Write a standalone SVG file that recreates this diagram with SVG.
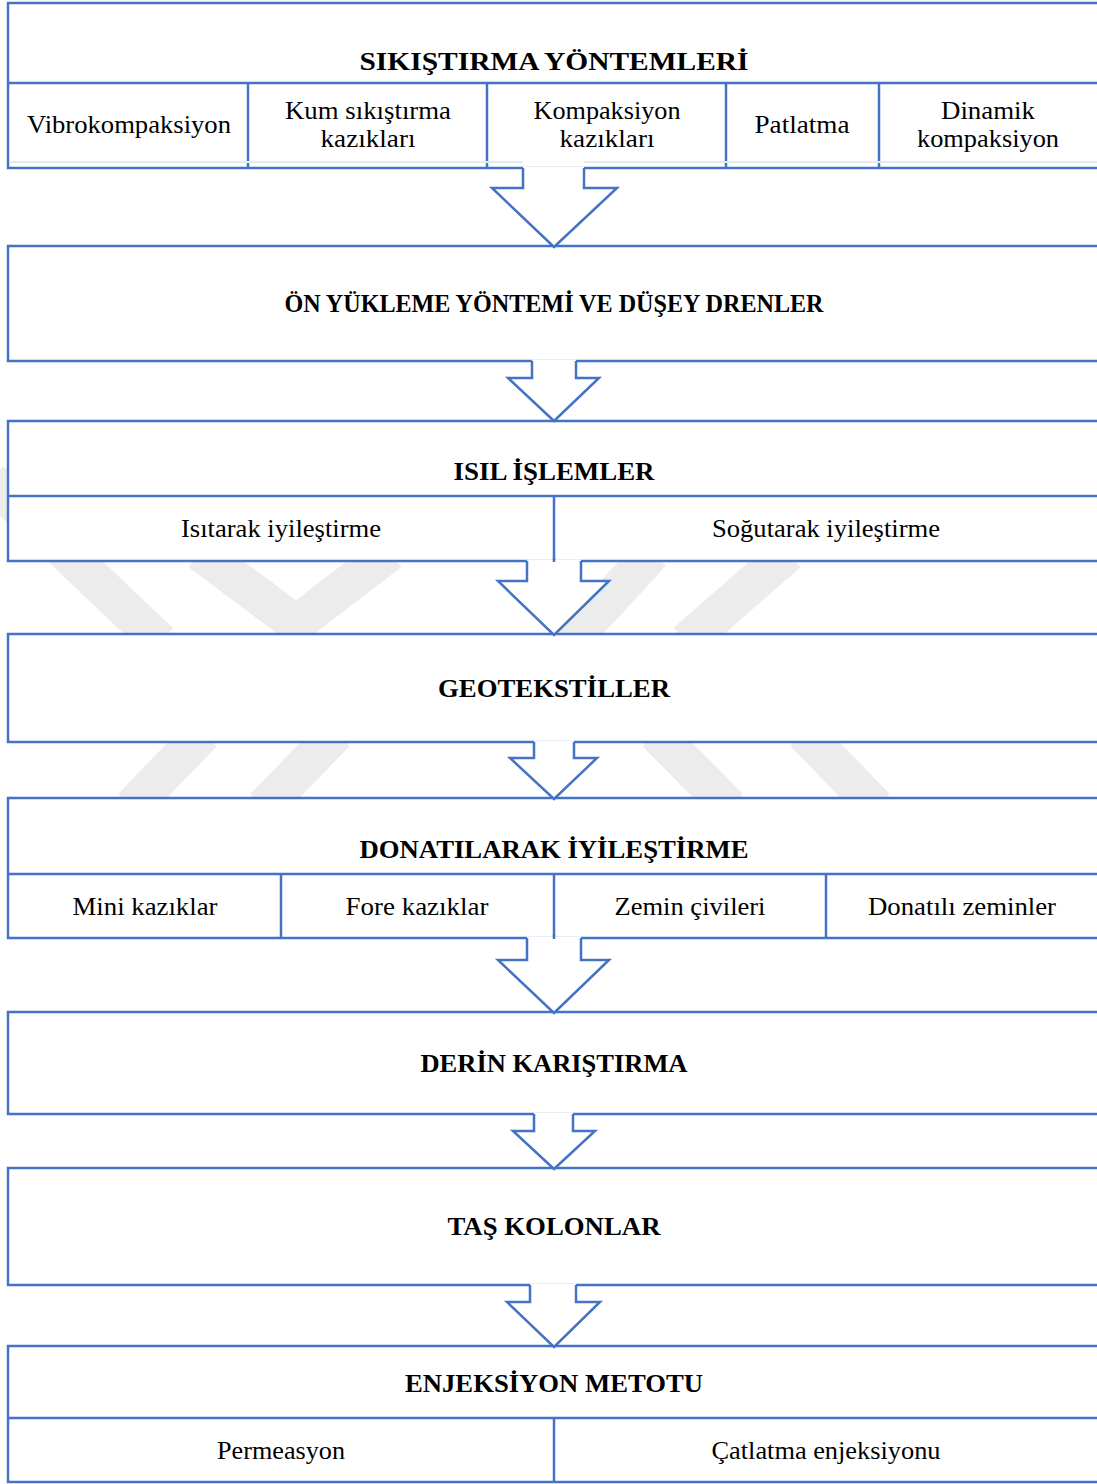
<svg xmlns="http://www.w3.org/2000/svg" width="1097" height="1484" viewBox="0 0 1097 1484">
<style>
  .box { fill: #ffffff; stroke: #4472C4; stroke-width: 2.5; }
  .ln { stroke: #4472C4; stroke-width: 2.5; fill: none; }
  .faint { stroke: #e4e9f2; stroke-width: 2; fill: none; }
  .wm { stroke: #ececec; stroke-width: 38; fill: none; stroke-linecap: butt; }
  .af { fill: #ffffff; stroke: none; }
  .as { fill: none; stroke: #4472C4; stroke-width: 2.5; stroke-linejoin: miter; }
  .t { font-family: "Liberation Serif", "Times New Roman", serif; font-weight: bold; font-size: 26px; fill: #000; text-anchor: middle; }
  .s { font-family: "Liberation Serif", "Times New Roman", serif; font-size: 26px; fill: #000; text-anchor: middle; }
</style>

<g id="watermark">
  <line class="wm" x1="-10" y1="480" x2="160" y2="642"/>
  <polyline class="wm" points="200,552 296,624 390,552" stroke-linejoin="miter"/>
  <line class="wm" x1="652" y1="553" x2="570" y2="642"/>
  <line class="wm" x1="788" y1="553" x2="686" y2="642"/>
  <line class="wm" x1="203" y1="733" x2="132" y2="807"/>
  <line class="wm" x1="336" y1="733" x2="264" y2="807"/>
  <line class="wm" x1="656" y1="733" x2="729" y2="807"/>
  <line class="wm" x1="804" y1="733" x2="876" y2="807"/>
</g>

<g id="node-sikistirma">
  <rect class="box" x="8" y="3" width="1100" height="165"/>
  <line class="ln" x1="8" y1="83" x2="1100" y2="83"/>
  <line class="ln" x1="248" y1="83" x2="248" y2="168"/>
  <line class="ln" x1="487" y1="83" x2="487" y2="168"/>
  <line class="ln" x1="726" y1="83" x2="726" y2="168"/>
  <line class="ln" x1="879" y1="83" x2="879" y2="168"/>
  <line class="faint" x1="10" y1="162" x2="523" y2="162"/>
  <line class="faint" x1="584" y1="162" x2="1097" y2="162"/>
  <text class="t" x="554" y="70" font-size="28" textLength="389" lengthAdjust="spacingAndGlyphs">SIKIŞTIRMA YÖNTEMLERİ</text>
  <text class="s" x="129" y="133" textLength="204" lengthAdjust="spacingAndGlyphs">Vibrokompaksiyon</text>
  <text class="s" x="368" y="119" textLength="166" lengthAdjust="spacingAndGlyphs">Kum sıkıştırma</text>
  <text class="s" x="368" y="147" textLength="95" lengthAdjust="spacingAndGlyphs">kazıkları</text>
  <text class="s" x="607" y="119" textLength="147" lengthAdjust="spacingAndGlyphs">Kompaksiyon</text>
  <text class="s" x="607" y="147" textLength="95" lengthAdjust="spacingAndGlyphs">kazıkları</text>
  <text class="s" x="802" y="133" textLength="95" lengthAdjust="spacingAndGlyphs">Patlatma</text>
  <text class="s" x="988" y="119" textLength="94" lengthAdjust="spacingAndGlyphs">Dinamik</text>
  <text class="s" x="988" y="147" textLength="142" lengthAdjust="spacingAndGlyphs">kompaksiyon</text>
</g>

<g id="node-on-yukleme">
  <rect class="box" x="8" y="246" width="1100" height="115"/>
  <text class="t" x="554" y="312" font-size="24" textLength="539" lengthAdjust="spacingAndGlyphs">ÖN YÜKLEME YÖNTEMİ VE DÜŞEY DRENLER</text>
</g>

<g id="node-isil">
  <rect class="box" x="8" y="421" width="1100" height="140"/>
  <line class="ln" x1="8" y1="496" x2="1100" y2="496"/>
  <line class="ln" x1="554" y1="496" x2="554" y2="561"/>
  <text class="t" x="554" y="480" textLength="201" lengthAdjust="spacingAndGlyphs">ISIL İŞLEMLER</text>
  <text class="s" x="281" y="537" textLength="200" lengthAdjust="spacingAndGlyphs">Isıtarak iyileştirme</text>
  <text class="s" x="826" y="537" textLength="228" lengthAdjust="spacingAndGlyphs">Soğutarak iyileştirme</text>
</g>

<g id="node-geotekstiller">
  <rect class="box" x="8" y="634" width="1100" height="108"/>
  <text class="t" x="554" y="697" textLength="232" lengthAdjust="spacingAndGlyphs">GEOTEKSTİLLER</text>
</g>

<g id="node-donatilarak">
  <rect class="box" x="8" y="798" width="1100" height="140"/>
  <line class="ln" x1="8" y1="874" x2="1100" y2="874"/>
  <line class="ln" x1="281" y1="874" x2="281" y2="938"/>
  <line class="ln" x1="554" y1="874" x2="554" y2="938"/>
  <line class="ln" x1="826" y1="874" x2="826" y2="938"/>
  <text class="t" x="554" y="858" textLength="389" lengthAdjust="spacingAndGlyphs">DONATILARAK İYİLEŞTİRME</text>
  <text class="s" x="145" y="915" textLength="145" lengthAdjust="spacingAndGlyphs">Mini kazıklar</text>
  <text class="s" x="417" y="915" textLength="143" lengthAdjust="spacingAndGlyphs">Fore kazıklar</text>
  <text class="s" x="690" y="915" textLength="151" lengthAdjust="spacingAndGlyphs">Zemin çivileri</text>
  <text class="s" x="962" y="915" textLength="188" lengthAdjust="spacingAndGlyphs">Donatılı zeminler</text>
</g>

<g id="node-derin">
  <rect class="box" x="8" y="1012" width="1100" height="102"/>
  <text class="t" x="554" y="1072" textLength="267" lengthAdjust="spacingAndGlyphs">DERİN KARIŞTIRMA</text>
</g>

<g id="node-tas">
  <rect class="box" x="8" y="1168" width="1100" height="117"/>
  <text class="t" x="554" y="1235" textLength="213" lengthAdjust="spacingAndGlyphs">TAŞ KOLONLAR</text>
</g>

<g id="node-enjeksiyon">
  <rect class="box" x="8" y="1346" width="1100" height="136"/>
  <line class="ln" x1="8" y1="1418" x2="1100" y2="1418"/>
  <line class="ln" x1="554" y1="1418" x2="554" y2="1482"/>
  <text class="t" x="554" y="1392" textLength="298" lengthAdjust="spacingAndGlyphs">ENJEKSİYON METOTU</text>
  <text class="s" x="281" y="1459" textLength="128" lengthAdjust="spacingAndGlyphs">Permeasyon</text>
  <text class="s" x="826" y="1459" textLength="229" lengthAdjust="spacingAndGlyphs">Çatlatma enjeksiyonu</text>
</g>

<g id="connectors">
  <polygon class="af" points="523,166.6 523,188 492,188 554,247 617,188 584,188 584,166.6"/>
  <polyline class="as" points="523,168 523,188 492,188 554,247 617,188 584,188 584,168"/>

  <polygon class="af" points="532,359.6 532,378 508,378 554,421 599,378 576,378 576,359.6"/>
  <polyline class="as" points="532,361 532,378 508,378 554,421 599,378 576,378 576,361"/>

  <polygon class="af" points="527,559.6 527,581 498,581 554,635 609,581 581,581 581,559.6"/>
  <polyline class="as" points="527,561 527,581 498,581 554,635 609,581 581,581 581,561"/>
  <line class="ln" x1="554" y1="558" x2="554" y2="562"/>

  <polygon class="af" points="534,740.6 534,758 510,758 554,799 597,758 574,758 574,740.6"/>
  <polyline class="as" points="534,742 534,758 510,758 554,799 597,758 574,758 574,742"/>

  <polygon class="af" points="527,936.6 527,960 498,960 554,1013 609,960 581,960 581,936.6"/>
  <polyline class="as" points="527,938 527,960 498,960 554,1013 609,960 581,960 581,938"/>
  <line class="ln" x1="554" y1="935" x2="554" y2="939"/>

  <polygon class="af" points="534,1112.6 534,1131 513,1131 554,1169 595,1131 573,1131 573,1112.6"/>
  <polyline class="as" points="534,1114 534,1131 513,1131 554,1169 595,1131 573,1131 573,1114"/>

  <polygon class="af" points="530,1283.6 530,1302 507,1302 554,1347 600,1302 576,1302 576,1283.6"/>
  <polyline class="as" points="530,1285 530,1302 507,1302 554,1347 600,1302 576,1302 576,1285"/>
</g>
</svg>
